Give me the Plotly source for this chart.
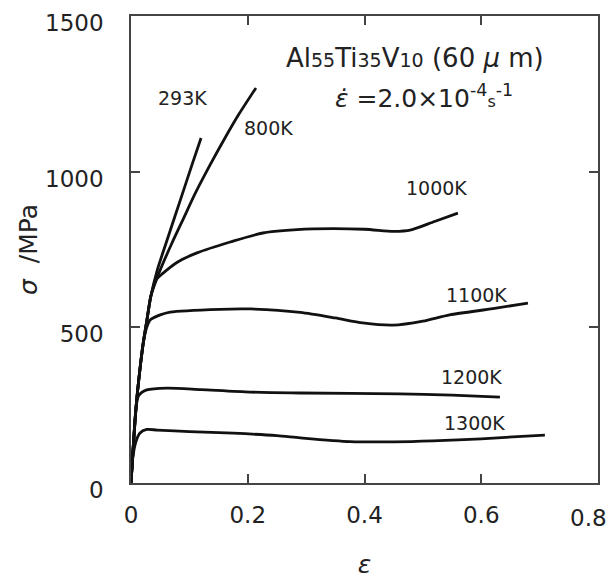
import plotly.graph_objects as go

# Strain / stress data (strain [-], stress [MPa])
x_293 = [0, 0.004, 0.009, 0.015, 0.021, 0.027, 0.034, 0.045, 0.06, 0.075, 0.09, 0.105, 0.12]
y_293 = [0, 120, 250, 360, 450, 520, 600, 684, 770, 855, 940, 1025, 1108]

x_800 = [0, 0.004, 0.009, 0.015, 0.021, 0.027, 0.034, 0.05, 0.07, 0.09, 0.11, 0.135, 0.16, 0.185, 0.214]
y_800 = [0, 120, 250, 360, 450, 520, 600, 684, 770, 850, 930, 1020, 1105, 1185, 1269]

x_1000 = [0, 0.004, 0.009, 0.015, 0.021, 0.027, 0.034, 0.042, 0.055, 0.08, 0.113, 0.17, 0.226, 0.312, 0.40, 0.45, 0.48, 0.52, 0.56]
y_1000 = [0, 120, 250, 360, 450, 520, 600, 650, 674, 710, 739, 774, 803, 816, 815, 808, 813, 840, 867]

x_1100 = [0, 0.004, 0.009, 0.015, 0.021, 0.027, 0.033, 0.05, 0.067, 0.152, 0.204, 0.29, 0.35, 0.397, 0.449, 0.5, 0.546, 0.62, 0.68]
y_1100 = [0, 120, 250, 360, 450, 500, 524, 540, 549, 558, 559, 548, 530, 514, 507, 520, 540, 560, 578]

x_1200 = [0, 0.004, 0.008, 0.013, 0.027, 0.062, 0.12, 0.204, 0.29, 0.46, 0.55, 0.632]
y_1200 = [0, 120, 230, 280, 299, 305, 300, 292, 289, 286, 282, 276]

x_1300 = [0, 0.003, 0.008, 0.015, 0.027, 0.045, 0.1, 0.175, 0.25, 0.29, 0.375, 0.45, 0.517, 0.6, 0.709]
y_1300 = [0, 80, 130, 160, 172, 170, 165, 160, 152, 145, 133, 132, 135, 142, 154]

series = [
    ("293K", x_293, y_293),
    ("800K", x_800, y_800),
    ("1000K", x_1000, y_1000),
    ("1100K", x_1100, y_1100),
    ("1200K", x_1200, y_1200),
    ("1300K", x_1300, y_1300),
]

# label anchor positions (data coords)
label_names = ["293K", "800K", "1000K", "1100K", "1200K", "1300K"]
label_x = [0.089, 0.235, 0.524, 0.591, 0.584, 0.588]
label_y = [1237, 1140, 948, 604, 340, 193]

x_ticks = [0, 0.2, 0.4, 0.6, 0.8]
x_ticktext = ["0", "0.2", "0.4", "0.6", ""]
x_last_label = "0.8"   # drawn at the right edge so it stays inside the figure
y_ticks = [0, 500, 1000, 1500]
y_ticktext = ["0", "500", "1000", "1500"]

FONT = "DejaVu Sans"
AXC = "#444444"
TXT = "#222222"

fig = go.Figure()
for name, xs, ys in series:
    fig.add_trace(go.Scatter(
        x=xs, y=ys, mode="lines", name=name,
        line=dict(color="#111111", width=2.8, shape="spline", smoothing=0.7),
        showlegend=False, hoverinfo="x+y+name",
    ))

for n, lx, ly in zip(label_names, label_x, label_y):
    fig.add_annotation(x=lx, y=ly, text=n, showarrow=False,
                       font=dict(family=FONT, size=19, color=TXT),
                       xanchor="center", yanchor="middle")

fig.add_annotation(x=x_ticks[-1], xref="x", y=0, yref="paper", text=x_last_label,
                   showarrow=False, xanchor="right", yanchor="top",
                   xshift=11, yshift=-20,
                   font=dict(family=FONT, size=23, color=TXT))

small = "<span style='font-size:19px'>{}</span>"
line1 = "Al" + small.format("55") + "Ti" + small.format("35") + "V" + small.format("10") + " (60 <i>μ</i> m)"
line2 = "<i>ε̇</i> =2.0×10<sup>-4</sup><span style='font-size:16px'>s</span><sup>-1</sup>"
fig.add_annotation(x=0.486, y=1365, text=line1, showarrow=False,
                   font=dict(family=FONT, size=26, color=TXT),
                   xanchor="center", yanchor="middle")
fig.add_annotation(x=0.502, y=1240, text=line2, showarrow=False,
                   font=dict(family=FONT, size=25, color=TXT),
                   xanchor="center", yanchor="middle")

fig.update_layout(
    width=614, height=585,
    margin=dict(l=131, r=16, t=16, b=102, autoexpand=False),
    paper_bgcolor="white", plot_bgcolor="white",
    font=dict(family=FONT, color=TXT),
    xaxis=dict(
        range=[0, 0.8], tickvals=x_ticks, ticktext=x_ticktext,
        showgrid=False, zeroline=False, automargin=False,
        showline=True, linecolor=AXC, linewidth=1.5, mirror="allticks",
        ticks="inside", ticklen=9, tickwidth=1.5, tickcolor=AXC,
        tickfont=dict(family=FONT, size=23, color=TXT),
        ticklabelstandoff=11,
        title=dict(text="<i>ε</i>", font=dict(family=FONT, size=25, color=TXT), standoff=28),
    ),
    yaxis=dict(
        range=[0, 1500], tickvals=y_ticks, ticktext=y_ticktext,
        showgrid=False, zeroline=False, automargin=False,
        showline=True, linecolor=AXC, linewidth=1.5, mirror="allticks",
        ticks="inside", ticklen=9, tickwidth=1.5, tickcolor=AXC,
        tickfont=dict(family=FONT, size=23, color=TXT),
        ticklabelstandoff=21, ticklabelshift=7,
        title=dict(text="<i>σ</i>\u00a0\u00a0/MPa", font=dict(family=FONT, size=25, color=TXT), standoff=0),
    ),
)

fig.write_html("out.html")
